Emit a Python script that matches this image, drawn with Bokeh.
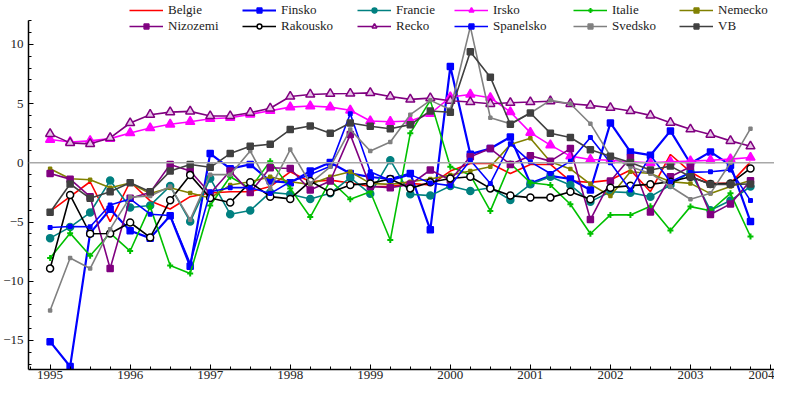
from bokeh.plotting import figure
from bokeh.models import Range1d, FixedTicker, Span, Legend, LegendItem
from bokeh.embed import file_html
from bokeh.resources import INLINE

# quarterly periods 1995Q1 .. 2003Q4
quarters = [1995 + 0.25 * i for i in range(36)]
year_ticks = list(range(1995, 2005))
year_minor = [1994.75 + 0.25 * i for i in range(40)]
y_major = [-15, -10, -5, 0, 5, 10]
y_minor = list(range(-17, 13))

belgie = [-4.1, -2.86, -1.6, -4.96, -1.6, -3.22, -3.9, -2.86, -2.55, -2.44, -2.44, -2.0,
          -0.76, -1.6, -1.46, -1.7, -2.0, -2.0, -1.74, -1.88, -0.7, -0.06, -0.06, -0.9,
          -0.14, -0.14, -1.54, -1.65, -1.46, -0.61, -2.44, 0.7, -0.76, -1.74, -1.74, 0.08]
finsko = [-15.1, -17.2, -5.94, -3.92, -5.74, -6.36, -4.48, -8.74, 0.78, -0.5, -0.14, -1.54,
          -1.68, -0.7, 0.03, -0.9, -1.2, -1.37, -0.9, -5.66, 8.12, 0.73, 1.2, 2.18,
          -1.74, -1.1, -1.37, -2.3, 3.36, 0.92, 0.64, 2.69, -0.06, 0.92, -0.2, -4.96]
francie = [-6.36, -5.43, -4.2, -1.5, -3.78, -3.6, -1.96, -4.96, -1.32, -4.34, -4.03, -2.5,
           -2.66, -3.05, -2.58, -1.26, -2.62, 0.22, -2.66, -2.77, -1.96, -2.38, -2.1, -3.14,
           -1.82, -1.18, -1.88, -3.28, -2.44, -2.52, -2.86, -1.88, -0.76, -4.0, -3.19, -2.0]
irsko = [1.96, 1.76, 1.85, 2.04, 2.52, 2.94, 3.25, 3.47, 3.72, 3.8, 4.09, 4.4,
         4.7, 4.79, 4.7, 4.43, 3.53, 3.47, 3.53, 4.14, 5.55, 5.77, 5.49, 4.29,
         2.55, 1.49, 0.56, 0.28, 0.22, 0.08, 0.0, 0.08, 0.14, 0.22, 0.31, 0.45]
italie = [-8.04, -5.94, -7.84, -5.94, -7.45, -3.7, -8.68, -9.35, -3.6, -1.18, -2.16, 0.14,
          -2.16, -4.58, -1.5, -3.08, -2.44, -6.52, 2.5, 5.27, -0.34, -1.04, -4.06, -0.06,
          -1.68, -1.88, -3.5, -5.99, -4.4, -4.4, -3.67, -5.72, -3.7, -4.05, -2.58, -6.22]
nemecko = [-0.5, -1.35, -1.43, -2.1, -1.7, -2.6, -2.1, -2.55, -2.97, -1.88, -1.6, -1.18,
           -1.6, -1.82, -1.18, -0.76, -1.74, -1.82, -1.6, -1.37, -1.04, -0.7, -0.34, 1.54,
           2.07, 0.08, -0.52, -1.8, -2.8, -0.76, -0.9, -1.6, -1.74, -2.6, -2.0, -1.5]
nizozemi = [-0.9, -1.38, -2.86, -8.93, -3.0, -2.5, -0.14, -0.7, -2.6, -0.7, -2.5, -0.42,
            -0.48, -2.3, -1.54, 2.38, -2.0, -2.1, -1.82, -0.61, -1.46, 0.5, 1.2, -0.14,
            0.59, 0.14, 1.2, -4.79, -1.54, 0.42, -4.16, -1.18, -0.34, -4.37, -3.47, -1.51]
rakousko = [-8.93, -2.72, -5.99, -5.97, -5.04, -6.3, -3.16, -1.04, -2.97, -3.35, -1.65, -2.86,
            -3.05, -1.54, -2.5, -1.88, -1.74, -1.37, -2.16, -1.65, -1.32, -1.18, -2.16, -2.77,
            -2.94, -2.94, -2.44, -3.08, -2.1, -1.93, -1.82, -1.6, -1.18, -1.79, -1.74, -0.48]
recko = [2.44, 1.68, 1.6, 2.1, 3.36, 4.06, 4.28, 4.34, 3.95, 3.95, 4.23, 4.6,
         5.6, 5.77, 5.83, 5.85, 5.9, 5.6, 5.35, 5.46, 5.24, 5.13, 4.98, 5.07,
         5.13, 5.2, 4.98, 4.85, 4.65, 4.37, 4.0, 3.39, 2.83, 2.38, 1.85, 1.4]
spanelsko = [-5.46, -5.38, -5.4, -3.56, -3.05, -4.34, -4.45, -8.5, -2.44, -2.1, -2.1, -2.6,
             -1.6, -1.0, -0.3, 4.14, -0.76, -1.5, -1.0, -1.7, -1.93, 0.22, -1.74, 1.6,
             0.08, -0.9, 0.14, 2.13, 0.0, -2.3, 0.64, -1.6, -0.81, -0.76, -0.6, -3.19]
svedsko = [-12.47, -8.04, -8.93, -5.6, -2.9, -2.8, -2.0, -4.8, -1.0, -1.0, 1.0, -2.16,
           1.12, -1.74, -0.34, 2.8, 1.0, 1.76, 4.06, 5.27, 4.5, 11.49, 3.8, 3.3,
           4.2, 5.27, 4.98, 3.3, 0.56, -0.34, -0.9, -2.0, -3.08, -2.58, 0.0, 2.88]
vb = [-4.17, -1.79, -3.0, -2.44, -1.68, -2.44, -0.7, -0.14, -0.38, 0.78, 1.4, 1.57,
      2.8, 3.1, 2.5, 3.36, 3.08, 2.88, 3.22, 4.37, 4.26, 9.38, 7.23, 3.25,
      4.2, 2.5, 2.13, 1.1, 0.56, 0.03, -0.61, -0.28, -1.18, -1.82, -1.82, -1.79]

names = ["Belgie", "Finsko", "Francie", "Irsko", "Italie", "Nemecko",
         "Nizozemi", "Rakousko", "Recko", "Spanelsko", "Svedsko", "VB"]
values = [belgie, finsko, francie, irsko, italie, nemecko,
          nizozemi, rakousko, recko, spanelsko, svedsko, vb]

# styles: color, marker, size, fill, line width
styles = {
    "Belgie": ("#ff0000", None, 0, None, 1.6),
    "Finsko": ("#0000ff", "square", 6, "#0000ff", 2.2),
    "Francie": ("#008080", "circle", 7, "#008080", 1.6),
    "Irsko": ("#ff00ff", "triangle", 9, "#ff00ff", 1.6),
    "Italie": ("#00c000", "cross", 6, "#00c000", 1.6),
    "Nemecko": ("#808000", "square", 3, "#808000", 1.6),
    "Nizozemi": ("#800080", "square", 6, "#800080", 1.6),
    "Rakousko": ("#000000", "circle", 7, "#ffffff", 1.6),
    "Recko": ("#800080", "triangle", 9, "#e6c6e6", 1.6),
    "Spanelsko": ("#0000ff", "square", 3.5, "#0000ff", 1.6),
    "Svedsko": ("#808080", "square", 3, "#808080", 1.6),
    "VB": ("#404040", "square", 6, "#404040", 1.6),
}

FONT = "'Liberation Serif'"

p = figure(width=774, height=381, output_backend="svg", toolbar_location=None,
           x_range=Range1d(1994.73, 2004.05), y_range=Range1d(-17.45, 13.7),
           min_border_left=21, min_border_right=0, min_border_top=0, min_border_bottom=0)
p.outline_line_color = None
p.xgrid.visible = False
p.ygrid.visible = False

p.add_layout(Span(location=0, dimension="width", line_color="#a8a8a8", line_width=1.5))

items = {}
for name, vals in zip(names, values):
    color, marker, size, fill, lw = styles[name]
    rs = [p.line(quarters, vals, line_color=color, line_width=lw)]
    if marker:
        rs.append(p.scatter(quarters, vals, marker=marker, size=size, line_color=color,
                            fill_color=fill, line_width=1.5 if marker != "cross" else 2))
    items[name] = LegendItem(label=name, renderers=rs)

for ax in (p.xaxis[0], p.yaxis[0]):
    ax.axis_line_color = "#000000"
    ax.axis_line_width = 1.5
    ax.major_tick_line_color = "#000000"
    ax.minor_tick_line_color = "#000000"
    ax.major_tick_in = 5
    ax.major_tick_out = 0
    ax.minor_tick_in = 3
    ax.minor_tick_out = 0
    ax.major_label_text_font = FONT
    ax.major_label_text_font_size = "13px"
    ax.major_label_text_color = "#222222"

p.xaxis[0].ticker = FixedTicker(ticks=year_ticks, minor_ticks=year_minor)
p.xaxis[0].major_label_standoff = 1
p.yaxis[0].ticker = FixedTicker(ticks=y_major, minor_ticks=y_minor)
p.yaxis[0].bounds = (-17.45, 12)
p.yaxis[0].major_label_standoff = 5

# legend: 6 columns of 2 rows (top row first half of names, bottom row second half)
col_x = [101, 214, 329, 426, 545, 651]
for k, x in enumerate(col_x):
    col_items = [items[names[k]], items[names[k + 6]]]
    lg = Legend(items=col_items, orientation="vertical", location=(x, 335),
                background_fill_alpha=0, border_line_color=None,
                padding=0, margin=0, spacing=0, glyph_width=34, glyph_height=12,
                label_height=12, label_standoff=5, label_text_font=FONT,
                label_text_font_size="13px", label_text_color="#222222")
    p.add_layout(lg)

open("out.html", "w").write(file_html(p, INLINE))
